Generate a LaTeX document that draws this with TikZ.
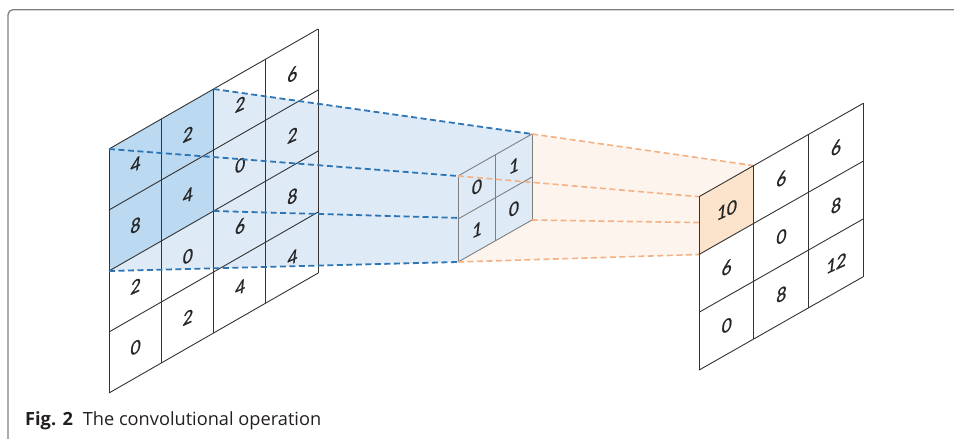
\documentclass[tikz,border=0pt]{standalone}
\usepackage{fontspec}
\setsansfont{Open Sans}
\newfontfamily\digitfont[ItalicFeatures={FakeBold=0.8}]{Carlito}
\usetikzlibrary{calc}
\definecolor{bluedash}{HTML}{2E75B6}
\definecolor{bluelight}{HTML}{DEEBF7}
\definecolor{bluedark}{HTML}{BBD9F1}
\definecolor{orangedash}{HTML}{F4B183}
\definecolor{orangelight}{HTML}{FEF4EE}
\definecolor{orangecell}{HTML}{FCE4CC}
\definecolor{gridline}{HTML}{333333}
\definecolor{kernelline}{HTML}{7F7F7F}
\definecolor{framegray}{HTML}{808080}
\definecolor{captext}{HTML}{231F20}
\tikzset{
  gridstyle/.style={draw=gridline, line width=0.9pt},
  kernelstyle/.style={draw=kernelline, line width=0.9pt},
  bluedashed/.style={draw=bluedash, line width=1.8pt, dash pattern=on 6pt off 3.5pt},
  orangedashed/.style={draw=orangedash, line width=1.6pt, dash pattern=on 6pt off 3.5pt},
  digit/.style={font=\digitfont\itshape\fontsize{20}{20}\selectfont, text=black!85, inner sep=0pt, yslant=0.45},
  framestyle/.style={draw=framegray, line width=1.3pt, rounded corners=5pt}
}
\begin{document}
\begin{tikzpicture}[x=1pt,y=-1pt]
\useasboundingbox (0,0) rectangle (954,439);
% frame
\coordinate (fA) at (8,439);
\coordinate (fB) at (8,9.7);
\coordinate (fC) at (954,9.7);
\draw[framestyle] (fA) -- (fB) -- (fC);
% corner coordinates
\foreach \i in {0,...,4}{\foreach \j in {0,...,4}{
  \coordinate (L-\i-\j) at ({109+52.3*\i},{149-30*\i+61*\j});}}
\foreach \i in {0,...,2}{\foreach \j in {0,...,2}{
  \coordinate (K-\i-\j) at ({458+37*\i},{176-21*\i+43*\j});}}
\foreach \i in {0,...,3}{\foreach \j in {0,...,3}{
  \coordinate (O-\i-\j) at ({699+54.7*\i},{196.7-31.1*\i+57.8*\j});}}
% blue projection
\fill[bluelight] (L-0-0) -- (L-2-0) -- (K-2-0) -- (K-2-2) -- (K-0-2) -- (L-0-2) -- cycle;
\fill[bluedark] (L-0-0) -- (L-2-0) -- (L-2-2) -- (L-0-2) -- cycle;
% left grid
\foreach \i in {0,...,4}{\draw[gridstyle] (L-\i-0) -- (L-\i-4);}
\foreach \j in {0,...,4}{\draw[gridstyle] (L-0-\j) -- (L-4-\j);}
\foreach \v [count=\n from 0] in {4,2,2,6,8,4,0,2,2,0,6,8,0,2,4,4}{
  \pgfmathtruncatemacro\ci{mod(\n,4)}
  \pgfmathtruncatemacro\rj{(\n-\ci)/4}
  \node[digit] (l\n) at ({109+52.3*(\ci+0.5)},{149-30*(\ci+0.5)+61*(\rj+0.5)}) {\v};
}
\draw[bluedashed] (L-2-0) -- (K-2-0);
\draw[bluedashed] (L-0-0) -- (K-0-0);
\draw[bluedashed] (L-2-2) -- (K-2-2);
\draw[bluedashed] (L-0-2) -- (K-0-2);
% orange projection
\fill[orangelight] (K-0-0) -- (K-2-0) -- (O-1-0) -- (O-1-1) -- (O-0-1) -- (K-0-2) -- cycle;
% kernel
\fill[bluelight] (K-0-0) -- (K-2-0) -- (K-2-2) -- (K-0-2) -- cycle;
\foreach \i in {0,...,2}{\draw[kernelstyle] (K-\i-0) -- (K-\i-2);}
\foreach \j in {0,...,2}{\draw[kernelstyle] (K-0-\j) -- (K-2-\j);}
\foreach \v [count=\n from 0] in {0,1,1,0}{
  \pgfmathtruncatemacro\ci{mod(\n,2)}
  \pgfmathtruncatemacro\rj{(\n-\ci)/2}
  \node[digit] (k\n) at ({458+37*(\ci+0.5)},{176-21*(\ci+0.5)+43*(\rj+0.5)}) {\v};
}
\draw[orangedashed] (K-2-0) -- (O-1-0);
\draw[orangedashed] (K-0-0) -- (O-0-0);
\draw[orangedashed] (K-2-2) -- (O-1-1);
\draw[orangedashed] (K-0-2) -- (O-0-1);
% output grid
\fill[orangecell] (O-0-0) -- (O-1-0) -- (O-1-1) -- (O-0-1) -- cycle;
\foreach \i in {0,...,3}{\draw[gridstyle] (O-\i-0) -- (O-\i-3);}
\foreach \j in {0,...,3}{\draw[gridstyle] (O-0-\j) -- (O-3-\j);}
\foreach \v [count=\n from 0] in {10,6,6,6,0,8,0,8,12}{
  \pgfmathtruncatemacro\ci{mod(\n,3)}
  \pgfmathtruncatemacro\rj{(\n-\ci)/3}
  \node[digit] (o\n) at ({699+54.7*(\ci+0.5)},{196.7-31.1*(\ci+0.5)+57.8*(\rj+0.5)}) {\v};
}
% caption
\node[anchor=base west, inner sep=0pt, text=captext, font=\sffamily\fontsize{18.2}{21}\selectfont] (cap) at (25,425.7) {\textbf{Fig. 2}\hspace{0.55em}The convolutional operation};
\end{tikzpicture}
\end{document}
